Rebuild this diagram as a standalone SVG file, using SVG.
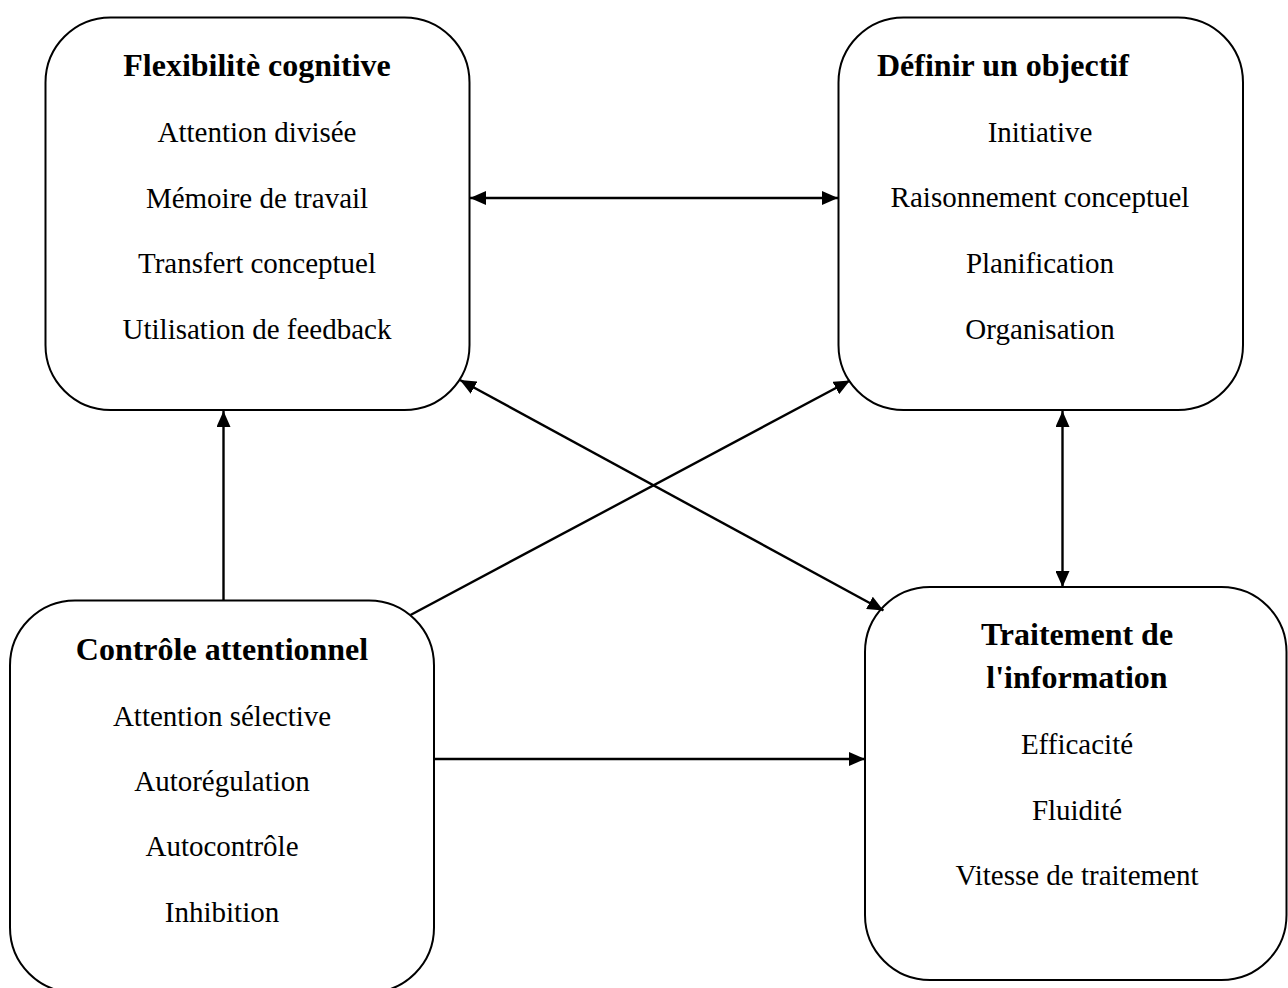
<svg xmlns="http://www.w3.org/2000/svg" width="1288" height="988" viewBox="0 0 1288 988">
  <style>
    .box { fill: #ffffff; stroke: #000000; stroke-width: 2; }
    .link { fill: none; stroke: #000000; stroke-width: 2.4; }
    .title { font-family: "Liberation Serif", "Times New Roman", serif; font-size: 32px; font-weight: bold; fill: #000000; }
    .item { font-family: "Liberation Serif", "Times New Roman", serif; font-size: 29px; fill: #000000; text-anchor: middle; }
  </style>
  <defs>
    <marker id="arrow" viewBox="0 0 16 14" refX="16" refY="7" markerWidth="16" markerHeight="14" markerUnits="userSpaceOnUse" orient="auto-start-reverse">
      <path d="M0,0 L16,7 L0,14 z" fill="#000000"/>
    </marker>
  </defs>

  <rect width="1288" height="988" fill="#ffffff"/>

  <!-- Flexibilité cognitive -->
  <g id="node-flexibilite">
    <rect class="box" x="45.5" y="17.5" width="424" height="392.5" rx="65" ry="65"/>
    <text class="title" x="257" y="76" text-anchor="middle">Flexibilitè cognitive</text>
    <text class="item" x="257" y="142">Attention divisée</text>
    <text class="item" x="257" y="207.5">Mémoire de travail</text>
    <text class="item" x="257" y="273">Transfert conceptuel</text>
    <text class="item" x="257" y="339">Utilisation de feedback</text>
  </g>

  <!-- Définir un objectif -->
  <g id="node-objectif">
    <rect class="box" x="838.5" y="17.5" width="404.5" height="392.5" rx="65" ry="65"/>
    <text class="title" x="877" y="76">Définir un objectif</text>
    <text class="item" x="1040" y="142">Initiative</text>
    <text class="item" x="1040" y="207">Raisonnement conceptuel</text>
    <text class="item" x="1040" y="273">Planification</text>
    <text class="item" x="1040" y="338.5">Organisation</text>
  </g>

  <!-- Contrôle attentionnel -->
  <g id="node-controle">
    <rect class="box" x="10" y="600.5" width="424" height="392" rx="65" ry="65"/>
    <text class="title" x="222" y="660" text-anchor="middle">Contrôle attentionnel</text>
    <text class="item" x="222" y="726">Attention sélective</text>
    <text class="item" x="222" y="791">Autorégulation</text>
    <text class="item" x="222" y="856">Autocontrôle</text>
    <text class="item" x="222" y="922">Inhibition</text>
  </g>

  <!-- Traitement de l'information -->
  <g id="node-traitement">
    <rect class="box" x="865" y="587" width="421.5" height="393" rx="65" ry="65"/>
    <text class="title" x="1077" y="645" text-anchor="middle">Traitement de</text>
    <text class="title" x="1077" y="687.5" text-anchor="middle">l'information</text>
    <text class="item" x="1077" y="753.5">Efficacité</text>
    <text class="item" x="1077" y="819.5">Fluidité</text>
    <text class="item" x="1077" y="885">Vitesse de traitement</text>
  </g>

  <!-- Connectors -->
  <g id="connectors">
    <line class="link" x1="470" y1="198" x2="838" y2="198" marker-start="url(#arrow)" marker-end="url(#arrow)"/>
    <line class="link" x1="223.5" y1="600" x2="223.5" y2="411" marker-end="url(#arrow)"/>
    <line class="link" x1="410.5" y1="615" x2="850" y2="380.5" marker-end="url(#arrow)"/>
    <line class="link" x1="460" y1="380" x2="883.5" y2="610.5" marker-start="url(#arrow)" marker-end="url(#arrow)"/>
    <line class="link" x1="434" y1="759" x2="865" y2="759" marker-end="url(#arrow)"/>
    <line class="link" x1="1062.5" y1="411" x2="1062.5" y2="587" marker-start="url(#arrow)" marker-end="url(#arrow)"/>
  </g>
</svg>
